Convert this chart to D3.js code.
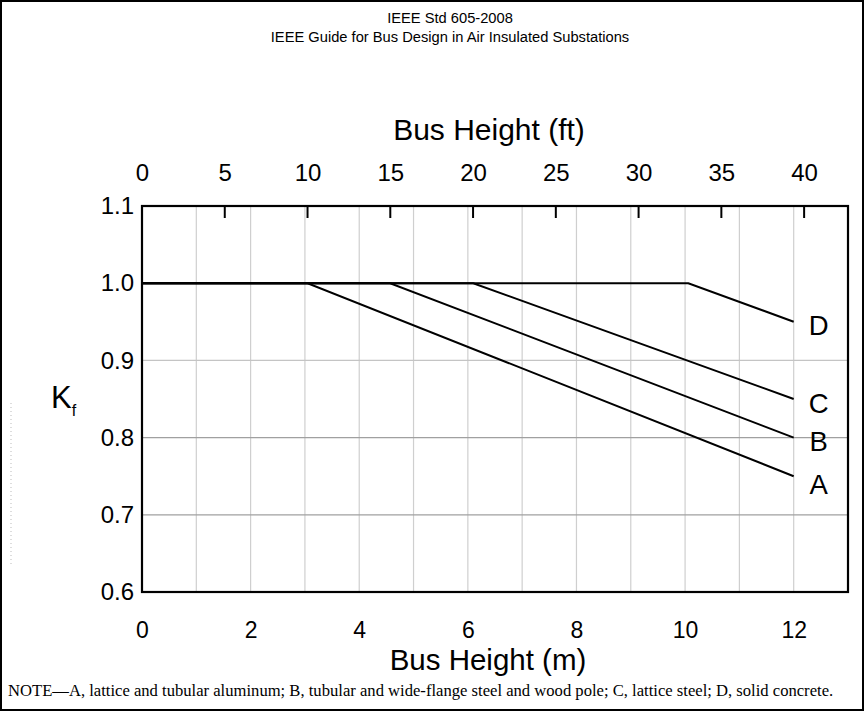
<!DOCTYPE html>
<html>
<head>
<meta charset="utf-8">
<script src="https://cdn.jsdelivr.net/npm/d3@7"></script>
<style>
  html, body { margin: 0; padding: 0; background: #fff; }
  svg { display: block; }
  text { fill: #000; }
</style>
</head>
<body>
<svg id="chart" width="865" height="712"></svg>
<script>
// ---- data ----
const seriesNames = ["A", "B", "C", "D"];
const seriesX = [
  [0, 3.05, 12],
  [0, 4.57, 12],
  [0, 6.1, 12],
  [0, 10.06, 12]
];
const seriesY = [
  [1.0, 1.0, 0.75],
  [1.0, 1.0, 0.80],
  [1.0, 1.0, 0.85],
  [1.0, 1.0, 0.95]
];
const xTicksM = [0, 2, 4, 6, 8, 10, 12];
const xTicksFt = [0, 5, 10, 15, 20, 25, 30, 35, 40];
const yTicks = [0.6, 0.7, 0.8, 0.9, 1.0, 1.1];
const titleLines = ["IEEE Std 605-2008", "IEEE Guide for Bus Design in Air Insulated Substations"];
const noteText = "NOTE\u2014A, lattice and tubular aluminum; B, tubular and wide-flange steel and wood pole; C, lattice steel; D, solid concrete.";

// ---- layout ----
const SANS = "'Liberation Sans', Arial, sans-serif";
const SERIF = "'Liberation Serif', 'Times New Roman', serif";
const svg = d3.select("#chart");
const W = 865, H = 712;
const L = 142, R = 848, T = 206, B = 592;
const M_PER_FT = 0.3048;

const x = d3.scaleLinear().domain([0, 13]).range([L, R]);
const xFt = d3.scaleLinear().domain([0, 13 / M_PER_FT]).range([L, R]);
const y = d3.scaleLinear().domain([0.6, 1.1]).range([B, T]);

// outer border
svg.append("rect").attr("x", 1).attr("y", 1).attr("width", W - 3).attr("height", H - 3)
  .attr("fill", "none").attr("stroke", "#000").attr("stroke-width", 2);

// title
svg.append("g").selectAll("text").data(titleLines).join("text")
  .attr("x", 450).attr("y", (d, i) => 23 + i * 19)
  .attr("text-anchor", "middle").style("font-family", SANS).style("font-size", "14.7px").text(d => d);

// grid
const grid = svg.append("g");
grid.selectAll("line.v").data(d3.range(1, 13)).join("line").attr("class", "v")
  .attr("x1", d => x(d)).attr("x2", d => x(d)).attr("y1", T).attr("y2", B)
  .attr("stroke", "#cfcfcf").attr("stroke-width", 1.2);
grid.selectAll("line.h").data([0.7, 0.8, 0.9]).join("line").attr("class", "h")
  .attr("x1", L).attr("x2", R).attr("y1", d => y(d)).attr("y2", d => y(d))
  .attr("stroke", d => d === 0.9 ? "#c4c4c4" : "#a0a0a0").attr("stroke-width", 1.2);

// top ft axis
const topAxis = d3.axisTop(xFt).tickValues(xTicksFt).tickSize(0).tickPadding(0).tickFormat(d3.format("d"));
const gTop = svg.append("g").attr("transform", `translate(0,${T})`).call(topAxis);
gTop.select(".domain").remove();
gTop.selectAll("text").attr("y", -25).attr("dy", null)
  .style("font-family", SANS).style("font-size", "24px").attr("fill", "#000");
// inside ticks hanging down from top
svg.append("g").selectAll("line").data(xTicksFt.slice(1)).join("line")
  .attr("x1", d => xFt(d)).attr("x2", d => xFt(d)).attr("y1", T).attr("y2", T + 12)
  .attr("stroke", "#000").attr("stroke-width", 2);

// bottom m axis
const botAxis = d3.axisBottom(x).tickValues(xTicksM).tickSize(0).tickPadding(0).tickFormat(d3.format("d"));
const gBot = svg.append("g").attr("transform", `translate(0,${B})`).call(botAxis);
gBot.select(".domain").remove();
gBot.selectAll("text").attr("dy", null).attr("y", 46)
  .style("font-family", SANS).style("font-size", "23px").attr("fill", "#000");

// left axis
const leftAxis = d3.axisLeft(y).tickValues(yTicks).tickSize(0).tickPadding(8).tickFormat(d3.format(".1f"));
const gLeft = svg.append("g").attr("transform", `translate(${L},0)`).call(leftAxis);
gLeft.select(".domain").remove();
gLeft.selectAll("text").style("font-family", SANS).style("font-size", "24px").attr("fill", "#000");

// axis titles
svg.append("text").attr("x", 489).attr("y", 140).attr("text-anchor", "middle")
  .style("font-family", SANS).style("font-size", "30px").text("Bus Height (ft)");
svg.append("text").attr("x", 488).attr("y", 670).attr("text-anchor", "middle")
  .style("font-family", SANS).style("font-size", "29.5px").text("Bus Height (m)");
const kf = svg.append("text").attr("x", 51).attr("y", 408).style("font-family", SANS).style("font-size", "31px");
kf.append("tspan").text("K");
kf.append("tspan").style("font-size", "16px").attr("dy", 8).text("f");

// series
const line = d3.line().x(d => x(d[0])).y(d => y(d[1]));
const gS = svg.append("g");
const labelOff = { A: 18, B: 13, C: 14, D: 13 };
seriesNames.forEach((name, i) => {
  const pts = seriesX[i].map((v, j) => [v, seriesY[i][j]]);
  gS.append("path").attr("d", line(pts)).attr("fill", "none")
    .attr("stroke", "#000").attr("stroke-width", 2);
  const last = pts[pts.length - 1];
  gS.append("text").attr("x", x(last[0]) + 25).attr("y", y(last[1]) + labelOff[name])
    .attr("text-anchor", "middle").style("font-family", SANS).style("font-size", "27.5px").text(name);
});

// frame
svg.append("rect").attr("x", L).attr("y", T).attr("width", R - L).attr("height", B - T)
  .attr("fill", "none").attr("stroke", "#000").attr("stroke-width", 2.2);

// faint scan artifact at left edge
svg.append("line").attr("x1", 11).attr("x2", 11).attr("y1", 403).attr("y2", 565)
  .attr("stroke", "#bbb").attr("stroke-width", 1).attr("stroke-dasharray", "1,3");

// note
const note = svg.append("text").attr("x", 8).attr("y", 696)
  .style("font-family", SERIF).style("font-size", "14px").text(noteText);
const nl = note.node().getComputedTextLength();
if (nl > 0) note.style("font-size", (14 * 825 / nl).toFixed(2) + "px");
</script>
</body>
</html>
